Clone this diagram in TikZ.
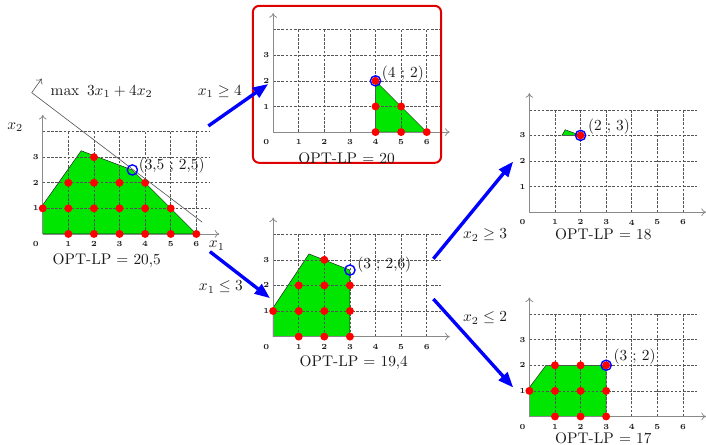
\documentclass[tikz,border=0pt]{standalone}
\usepackage{xcolor}
\usepackage{tikz}
\usetikzlibrary{arrows.meta}
\definecolor{Ink}        {HTML}{1A1A1A}
\definecolor{GridGrey}   {HTML}{555555}
\definecolor{AxisGrey}   {HTML}{8A8A8A}
\definecolor{RegionGreen}{HTML}{00E600}
\definecolor{PointRed}   {HTML}{FF0000}
\definecolor{OptBlue}    {HTML}{0000FF}
\definecolor{FrameRed}   {HTML}{E00000}

\begin{document}
\begin{tikzpicture}[x=0.585cm, y=0.585cm,
  region/.style={fill=RegionGreen, draw=Ink, line width=0.3pt},
  lattice/.style={fill=PointRed},
  optcirc/.style={draw=OptBlue, line width=0.9pt},
  gridline/.style={GridGrey, line width=0.4pt, dash pattern=on 1.7pt off 1pt},
  axisline/.style={AxisGrey, line width=0.5pt, -{To[length=3pt,width=5pt]}},
  branch/.style={OptBlue, line width=2.2pt, -{Triangle[length=10pt,width=7.5pt]}},
  ticklab/.style={font=\fontsize{5}{5}\selectfont\bfseries, text=Ink, inner sep=0pt},
  optlab/.style={text=Ink, inner sep=1pt}]
  \useasboundingbox (0,0) rectangle (27.58,17.38);

  % ===== PANEL ORIGINS =====
  \coordinate (A) at (1.67,8.24);   % root LP
  \coordinate (B) at (10.67,12.22); % x1 >= 4
  \coordinate (C) at (10.67,4.23);  % x1 <= 3
  \coordinate (D) at (20.68,9.09);  % x2 >= 3
  \coordinate (E) at (20.68,1.11);  % x2 <= 2

  % ===== FEASIBLE REGIONS =====
  \begin{scope}[shift={(A)}]
    \filldraw[region] (0,0) -- (6,0) -- (3.5,2.5) -- (1.5,3.25) -- (0,1.13) -- cycle;
  \end{scope}
  \begin{scope}[shift={(B)}]
    \filldraw[region] (4,0) -- (6,0) -- (4,2) -- cycle;
  \end{scope}
  \begin{scope}[shift={(C)}]
    \filldraw[region] (0,0) -- (3,0) -- (3,2.6) -- (1.4,3.23) -- (0,1.13) -- cycle;
  \end{scope}
  \begin{scope}[shift={(D)}]
    \filldraw[region] (1.27,3) -- (1.4,3.22) -- (2,3) -- cycle;
  \end{scope}
  \begin{scope}[shift={(E)}]
    \filldraw[region] (0,0) -- (3,0) -- (3,2) -- (0.65,2) -- (0,1.13) -- cycle;
  \end{scope}

  % ===== GRIDS AND AXES =====
  \foreach \p in {A,B,C,D,E}{
    \begin{scope}[shift={(\p)}]
      \foreach \i in {1,...,6} \draw[gridline] (\i,0) -- (\i,4);
      \foreach \j in {1,...,4} \draw[gridline] (0,\j) -- (6.55,\j);
      \draw[axisline] (0,0) -- (6.9,0);
      \draw[axisline] (0,0) -- (0,4.65);
      \node[ticklab] (\p-o) at (-0.27,-0.4) {0};
      \foreach \i in {1,...,6} \node[ticklab] (\p-x\i) at (\i,-0.4) {\i};
      \foreach \j in {1,2,3} \node[ticklab] (\p-y\j) at (-0.27,\j) {\j};
    \end{scope}
  }

  % ===== ROOT LP (left) =====
  \begin{scope}[shift={(A)}]
    \foreach \x/\y in {1/0,2/0,3/0,4/0,5/0,6/0,0/1,1/1,2/1,3/1,4/1,5/1,1/2,2/2,3/2,4/2,2/3}
      \fill[lattice] (\x,\y) circle (0.155);
    % objective line and its gradient
    \coordinate (objS) at (-0.43,5.52);
    \coordinate (objE) at (6.23,0.46);
    \coordinate (objG) at (-0.04,6.07);
    \draw[GridGrey, line width=0.4pt] (objS) -- (objE);
    \draw[GridGrey, line width=0.4pt, -{To[length=3pt,width=5pt]}] (objS) -- (objG);
    \node[anchor=west, text=Ink] (objlab) at (0.1,5.57) {$\max\ 3x_1+4x_2$};
    \node[text=Ink] (x2lab) at (-1.08,4.16) {$x_2$};
    \node[text=Ink] (x1lab) at (6.8,-0.46) {$x_1$};
    \draw[optcirc] (3.5,2.5) circle (0.2);
    \node[anchor=west, optlab] (ptA) at (3.68,2.67) {(3,5 ; 2,5)};
    \node[optlab] (optA) at (2.5,-1.02) {OPT-LP $=$ 20,5};
  \end{scope}

  % ===== BRANCH x1 >= 4 (top) =====
  \draw[FrameRed, line width=1.3pt, rounded corners=4pt] (9.88,11.02) rectangle (17.23,17.15);
  \begin{scope}[shift={(B)}]
    \foreach \x/\y in {4/0,5/0,6/0,4/1,5/1,4/2}
      \fill[lattice] (\x,\y) circle (0.155);
    \draw[optcirc] (4,2) circle (0.2);
    \node[anchor=west, optlab] (ptB) at (4.18,2.3) {(4 ; 2)};
    \node[optlab] (optB) at (2.87,-1.02) {OPT-LP $=$ 20};
  \end{scope}

  % ===== BRANCH x1 <= 3 (middle) =====
  \begin{scope}[shift={(C)}]
    \foreach \x/\y in {1/0,2/0,3/0,0/1,1/1,2/1,3/1,1/2,2/2,3/2,2/3}
      \fill[lattice] (\x,\y) circle (0.155);
    \draw[optcirc] (3,2.6) circle (0.2);
    \node[anchor=west, optlab] (ptC) at (3.22,2.8) {(3 ; 2,6)};
    \node[optlab] (optC) at (3.15,-1.02) {OPT-LP $=$ 19,4};
  \end{scope}

  % ===== BRANCH x2 >= 3 (right top) =====
  \begin{scope}[shift={(D)}]
    \fill[lattice] (2,3) circle (0.155);
    \draw[optcirc] (2,3) circle (0.2);
    \node[anchor=west, optlab] (ptD) at (2.22,3.34) {(2 ; 3)};
    \node[optlab] (optD) at (2.89,-0.85) {OPT-LP $=$ 18};
  \end{scope}

  % ===== BRANCH x2 <= 2 (right bottom) =====
  \begin{scope}[shift={(E)}]
    \foreach \x/\y in {1/0,2/0,3/0,0/1,1/1,2/1,3/1,1/2,2/2,3/2}
      \fill[lattice] (\x,\y) circle (0.155);
    \draw[optcirc] (3,2) circle (0.2);
    \node[anchor=west, optlab] (ptE) at (3.22,2.32) {(3 ; 2)};
    \node[optlab] (optE) at (2.89,-0.85) {OPT-LP $=$ 17};
  \end{scope}

  % ===== BRANCHING ARROWS =====
  \coordinate (A-up) at (8.14,12.46);
  \coordinate (B-in) at (10.48,14.1);
  \coordinate (A-dn) at (8.2,7.55);
  \coordinate (C-in) at (10.55,5.73);
  \coordinate (C-up) at (16.93,7.27);
  \coordinate (D-in) at (20.05,11.07);
  \coordinate (C-dn) at (16.93,5.7);
  \coordinate (E-in) at (20.05,2.24);
  \draw[branch] (A-up) -- (B-in);
  \draw[branch] (A-dn) -- (C-in);
  \draw[branch] (C-up) -- (D-in);
  \draw[branch] (C-dn) -- (E-in);
  \node[text=Ink] (cut1) at (8.59,13.8) {$x_1 \geq 4$};
  \node[text=Ink] (cut2) at (8.63,6.17) {$x_1 \leq 3$};
  \node[text=Ink] (cut3) at (18.95,8.2) {$x_2 \geq 3$};
  \node[text=Ink] (cut4) at (18.95,4.95) {$x_2 \leq 2$};

\end{tikzpicture}
\end{document}
